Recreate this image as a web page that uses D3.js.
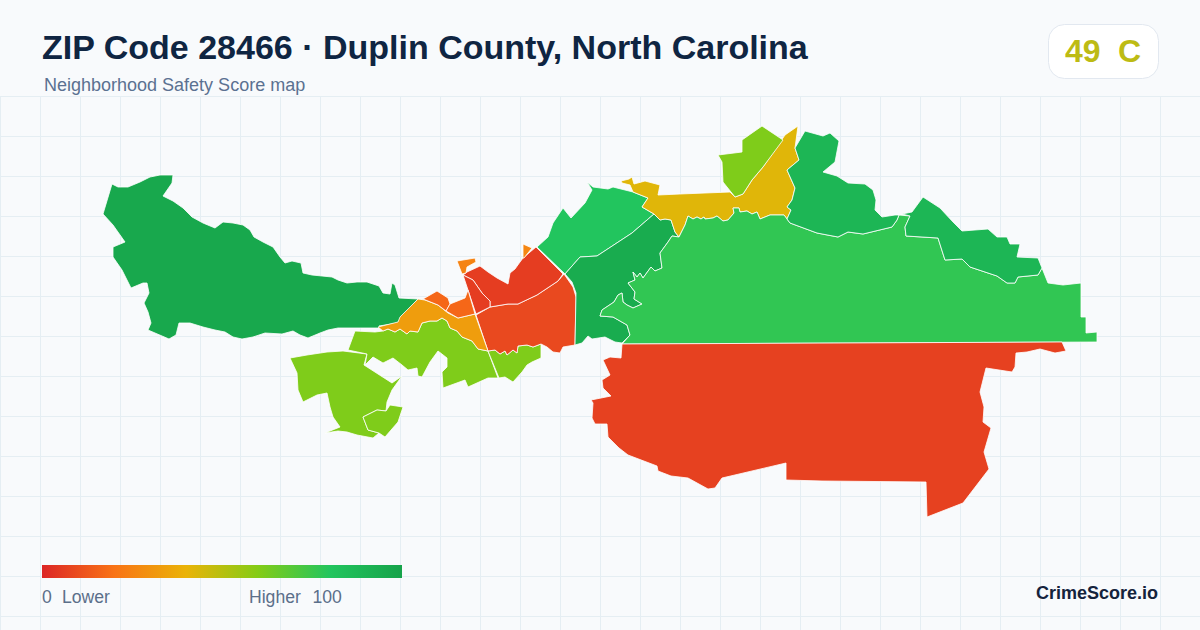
<!DOCTYPE html>
<html>
<head>
<meta charset="utf-8">
<title>ZIP Code 28466</title>
<script src="https://cdn.jsdelivr.net/npm/d3@7"></script>
<style>
  html, body { margin: 0; padding: 0; background: #f8fafc; }
  svg { display: block; }
  text { font-family: "Liberation Sans", Arial, Helvetica, sans-serif; }
  .grid line { stroke: #e5eef3; shape-rendering: crispEdges; }
  .tract { stroke: #fff; stroke-width: 0.8; stroke-linejoin: round; }
</style>
</head>
<body>
<div id="chart"></div>
<script>
const titleText = 'ZIP Code 28466 · Duplin County, North Carolina';
const subtitleText = 'Neighborhood Safety Score map';
const badgeScore = '49';
const badgeGrade = 'C';
const brandText = 'CrimeScore.io';

// legend colour ramp
const rampScores = [0, 20, 40, 60, 80, 100];
const rampColors = ['#dc2626', '#f97316', '#eab308', '#84cc16', '#22c55e', '#16a34a'];

// tract outlines in map units
const westTract = [[112,184],[118,187],[128,187],[140,182],[150,177],[160,175],[173,175],[172,183],[163,196],[173,201],[183,208],[192,217],[203,223],[215,228],[223,222],[233,223],[243,225],[250,230],[254,237],[263,242],[273,247],[280,257],[285,263],[292,261],[301,263],[303,273],[312,275],[332,277],[338,280],[347,283],[357,282],[367,282],[379,286],[383,293],[390,294],[392,283],[395,285],[399,298],[418,299],[400,320],[398,323],[379,326],[383,328],[363,328],[338,328],[328,330],[320,333],[308,338],[300,335],[293,331],[282,334],[265,333],[253,337],[242,339],[233,337],[225,332],[215,330],[203,327],[190,323],[179,323],[176,335],[169,339],[148,330],[151,323],[148,312],[144,303],[149,293],[147,283],[143,283],[131,288],[122,270],[113,257],[113,247],[125,242],[113,225],[103,214]];
const southwestLime = [[290,358],[307,355],[327,352],[343,351],[367,354],[364,365],[392,383],[402,376],[392,390],[387,402],[386,411],[377,410],[363,417],[368,430],[379,433],[373,438],[357,435],[347,432],[338,431],[325,433],[340,427],[333,417],[330,407],[327,393],[317,395],[303,402],[298,390],[297,373]];
const southwestSmall = [[363,417],[377,410],[386,411],[390,405],[403,407],[398,422],[385,437],[379,433],[368,430]];
const midLimeWest = [[348,350],[355,331],[375,332],[383,331],[388,329],[395,332],[400,329],[407,334],[410,331],[418,332],[422,323],[430,321],[437,321],[442,318],[447,321],[450,328],[457,331],[462,337],[472,341],[478,349],[488,351],[498,378],[488,378],[468,387],[465,380],[443,388],[442,372],[447,367],[447,358],[438,351],[430,362],[422,377],[418,376],[417,368],[408,370],[402,365],[393,358],[383,363],[373,357],[365,365],[367,354]];
const midLimeEast = [[488,351],[495,350],[500,354],[505,351],[507,355],[513,350],[517,353],[518,346],[527,345],[533,347],[541,344],[541,358],[532,362],[527,365],[522,372],[513,382],[505,377],[499,378]];
const orangeBand = [[378,327],[398,322],[400,317],[418,299],[425,300],[438,305],[448,313],[458,318],[475,314],[488,351],[478,349],[472,341],[462,337],[457,331],[450,328],[447,321],[442,318],[437,321],[430,321],[422,323],[418,332],[410,331],[407,334],[400,329],[395,332],[388,329],[383,331]];
const orangeHill = [[423,299],[437,291],[448,298],[450,304],[446,311],[438,305]];
const orangeWedge = [[446,311],[450,304],[465,298],[468,290],[475,314],[458,318]];
const orangeFlag = [[457,261],[475,258],[476,262],[467,267],[466,273],[462,274]];
const orangeTip = [[523,244],[532,248],[524,258],[523,258]];
const redSliver = [[463,275],[473,280],[482,293],[490,301],[490,307],[476,314]];
const redNorth = [[467,272],[480,266],[488,272],[497,278],[508,284],[510,273],[515,269],[520,262],[523,258],[536,247],[563,274],[558,281],[537,295],[518,304],[508,304],[490,307],[490,301],[482,293],[473,280],[463,275]];
const redCentral = [[476,315],[490,307],[508,304],[518,304],[537,295],[558,281],[564,274],[573,287],[576,297],[575,345],[563,347],[560,353],[553,352],[547,347],[541,344],[533,347],[527,345],[518,346],[517,353],[513,350],[507,355],[505,351],[500,354],[495,350],[488,351]];
const lightGreen = [[537,247],[548,237],[553,223],[563,208],[571,218],[585,203],[592,190],[587,182],[593,187],[608,189],[613,187],[633,192],[648,198],[642,207],[654,214],[632,233],[597,256],[580,257],[565,274]];
const midGreen = [[565,274],[580,257],[597,256],[632,233],[654,214],[660,220],[665,219],[671,220],[675,232],[679,237],[672,236],[668,242],[660,253],[662,268],[655,271],[651,267],[643,278],[640,273],[637,277],[633,272],[635,280],[628,283],[635,292],[634,299],[642,304],[633,308],[627,305],[623,302],[622,293],[618,295],[614,302],[602,310],[600,316],[613,317],[627,325],[630,335],[622,343],[615,342],[605,337],[592,339],[588,336],[582,343],[575,345],[576,293],[572,282]];
const yellowTract = [[621,181],[629,179],[632,177],[634,184],[645,181],[660,185],[658,195],[680,194],[730,192],[735,197],[743,194],[752,180],[763,167],[785,135],[798,126],[795,148],[799,160],[787,170],[795,188],[792,200],[787,207],[791,210],[787,219],[784,215],[770,215],[760,219],[757,212],[752,214],[747,211],[740,212],[739,208],[733,208],[734,213],[728,220],[723,221],[717,216],[713,218],[705,219],[704,217],[701,219],[697,217],[693,219],[688,216],[685,225],[679,237],[675,232],[671,220],[665,219],[660,220],[654,214],[642,207],[648,198],[633,192],[630,185],[622,183]];
const topLime = [[718,155],[742,152],[742,140],[762,126],[783,140],[763,167],[752,180],[743,194],[735,197],[723,182],[722,162]];
const bigGreen = [[622,344],[630,335],[627,325],[613,317],[600,316],[602,310],[614,302],[618,295],[622,293],[623,302],[627,305],[633,308],[642,304],[634,299],[635,292],[628,283],[635,280],[633,272],[637,277],[640,273],[643,278],[651,267],[655,271],[662,268],[660,253],[668,242],[672,236],[679,237],[685,225],[688,216],[693,219],[697,217],[701,219],[704,217],[705,219],[713,218],[717,216],[723,221],[728,220],[734,213],[733,208],[739,208],[740,212],[747,211],[752,214],[757,212],[760,219],[770,215],[784,215],[787,219],[790,223],[817,233],[838,237],[848,232],[863,234],[892,227],[897,220],[899,215],[910,216],[905,227],[906,236],[938,238],[945,260],[962,259],[970,267],[997,276],[1007,283],[1015,283],[1018,277],[1038,275],[1042,268],[1048,283],[1063,285],[1081,283],[1081,317],[1086,317],[1086,333],[1097,332],[1097,342]];
const northGreenA = [[805,131],[823,136],[830,133],[839,141],[835,162],[823,172],[837,176],[848,183],[865,184],[873,190],[876,200],[875,210],[882,217],[895,215],[899,215],[897,220],[892,227],[863,234],[848,232],[838,237],[817,233],[790,223],[787,219],[791,210],[787,207],[792,200],[795,188],[787,170],[799,160],[795,148]];
const northGreenB = [[923,197],[940,208],[953,222],[962,231],[988,229],[997,237],[1007,237],[1010,244],[1020,244],[1017,257],[1038,258],[1042,268],[1038,275],[1018,277],[1015,283],[1007,283],[997,276],[970,267],[962,259],[945,260],[938,238],[906,236],[905,227],[910,216],[902,214],[912,212]];
const southRed = [[622,344],[1062,342],[1066,351],[1055,353],[1040,349],[1027,352],[1016,353],[1015,367],[1012,372],[986,368],[980,392],[984,407],[983,422],[991,428],[984,452],[989,469],[963,503],[927,517],[926,482],[822,481],[786,480],[786,463],[722,478],[715,488],[708,489],[688,478],[671,476],[658,471],[657,466],[628,455],[619,448],[608,437],[607,424],[595,424],[592,418],[593,403],[591,400],[611,396],[603,388],[602,380],[610,375],[603,360],[610,357],[621,358]];

const tractOutlines = [westTract, southwestLime, southwestSmall, midLimeWest, midLimeEast, redCentral, redNorth, redSliver, orangeBand, orangeHill, orangeWedge, orangeFlag, orangeTip, lightGreen, midGreen, yellowTract, topLime, bigGreen, northGreenA, northGreenB, southRed];
const tractScores  = [97, 61, 61, 61, 61, 9, 6, 6, 33, 17, 17, 25, 26, 80, 95, 42, 61, 77, 89, 89, 7];

const width = 1200;
const height = 630;
const margin = { top: 96, legendLeft: 42, legendTop: 565 };

const color = d3.scaleLinear().domain(rampScores).range(rampColors);

const svg = d3.select('#chart')
  .append('svg')
  .attr('width', width)
  .attr('height', height);

svg.append('rect')
  .attr('width', width)
  .attr('height', height)
  .attr('fill', '#f8fafc');

// background grid
const grid = svg.append('g').attr('class', 'grid');
grid.selectAll('.v')
  .data(d3.range(0, width, 40))
  .enter()
  .append('line')
  .attr('x1', d => d + 0.5)
  .attr('x2', d => d + 0.5)
  .attr('y1', margin.top)
  .attr('y2', height);
grid.selectAll('.h')
  .data(d3.range(margin.top, height, 40))
  .enter()
  .append('line')
  .attr('x1', 0)
  .attr('x2', width)
  .attr('y1', d => d + 0.5)
  .attr('y2', d => d + 0.5);

// map
const features = tractOutlines.map((ring, i) => ({
  type: 'Feature',
  properties: { score: tractScores[i] },
  geometry: { type: 'Polygon', coordinates: [ring.concat([ring[0]])] }
}));
const path = d3.geoPath(d3.geoIdentity());

svg.append('g')
  .selectAll('path')
  .data(features)
  .enter()
  .append('path')
  .attr('class', 'tract')
  .attr('d', path)
  .attr('fill', d => color(d.properties.score));

// header
svg.append('text')
  .attr('x', 42)
  .attr('y', 59)
  .attr('font-size', 34)
  .attr('font-weight', 700)
  .attr('fill', '#0f2542')
  .text(titleText);

svg.append('text')
  .attr('x', 44)
  .attr('y', 91)
  .attr('font-size', 18)
  .attr('fill', '#5b7191')
  .text(subtitleText);

// score badge
svg.append('rect')
  .attr('x', 1048.5)
  .attr('y', 24.5)
  .attr('width', 110)
  .attr('height', 54)
  .attr('rx', 16)
  .attr('fill', '#fff')
  .attr('stroke', '#e2e8f0');

svg.append('text')
  .attr('x', 1065)
  .attr('y', 62)
  .attr('font-size', 32)
  .attr('font-weight', 700)
  .attr('fill', '#bdbb14')
  .text(badgeScore);

svg.append('text')
  .attr('x', 1118)
  .attr('y', 62)
  .attr('font-size', 32)
  .attr('font-weight', 700)
  .attr('fill', '#bdbb14')
  .text(badgeGrade);

// legend
const legendX = d3.scaleLinear().domain([0, 100]).range([margin.legendLeft, margin.legendLeft + 360]);
const gradient = svg.append('defs')
  .append('linearGradient')
  .attr('id', 'ramp');
gradient.selectAll('stop')
  .data(rampScores)
  .enter()
  .append('stop')
  .attr('offset', d => d + '%')
  .attr('stop-color', d => color(d));

svg.append('rect')
  .attr('x', legendX(0))
  .attr('y', margin.legendTop)
  .attr('width', legendX(100) - legendX(0))
  .attr('height', 13)
  .attr('fill', 'url(#ramp)');

const legendLabels = [
  { text: '0', x: 42 },
  { text: 'Lower', x: 62 },
  { text: 'Higher', x: 249 },
  { text: '100', x: 312.5 }
];
svg.selectAll('.legend-label')
  .data(legendLabels)
  .enter()
  .append('text')
  .attr('class', 'legend-label')
  .attr('x', d => d.x)
  .attr('y', 603)
  .attr('font-size', 17.6)
  .attr('fill', '#5b6f8a')
  .text(d => d.text);

svg.append('text')
  .attr('x', 1158)
  .attr('y', 599)
  .attr('text-anchor', 'end')
  .attr('font-size', 18)
  .attr('font-weight', 700)
  .attr('fill', '#14233c')
  .text(brandText);
</script>
</body>
</html>
